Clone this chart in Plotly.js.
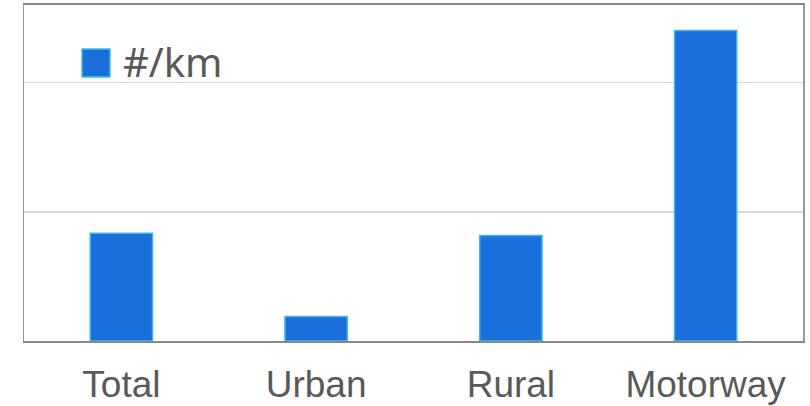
<!DOCTYPE html>
<html>
<head>
<meta charset="utf-8">
<script src="https://cdn.plot.ly/plotly-3.0.1.min.js"></script>
<style>html,body{margin:0;padding:0;background:#fff;}#chart{width:810px;height:406px;}</style>
</head>
<body>
<div id="chart"></div>
<script>
const categories = ["Total", "Urban", "Rural", "Motorway"];
const perKm = [0.833, 0.189, 0.817, 2.403];
const seriesName = "#/km";

const trace = {
  type: "bar",
  x: categories,
  y: perKm,
  name: seriesName,
  marker: { color: "#1a6fdb", line: { color: "#3cb9e6", width: 1.5 } },
  hoverinfo: "x+y"
};

const layout = {
  width: 810, height: 406,
  margin: { l: 24, r: 7, t: 5, b: 65 },
  paper_bgcolor: "#ffffff", plot_bgcolor: "#ffffff",
  showlegend: false,
  bargap: 0.68,
  xaxis: {
    type: "category",
    showline: true, linecolor: "#888888", linewidth: 2, mirror: true,
    showgrid: false, ticks: "",
    tickfont: { family: "Liberation Sans, Arial, sans-serif", size: 37, color: "#595959" },
    ticklabelstandoff: 10
  },
  yaxis: {
    range: [0, 2.6], dtick: 1,
    showticklabels: false, ticks: "",
    showgrid: true, gridcolor: "#d9d9d9", gridwidth: 1.5,
    zeroline: false,
    showline: true, linecolor: "#999999", linewidth: 1.5, mirror: true
  },
  shapes: [{
    type: "rect", xref: "paper", yref: "paper",
    x0: 0.0745, x1: 0.1104, y0: 0.786, y1: 0.869,
    fillcolor: "#1a6fdb", line: { color: "#3cb9e6", width: 1.5 }
  }],
  annotations: [{
    xref: "paper", yref: "paper", x: 0.1245, y: 0.831,
    xanchor: "left", yanchor: "middle", showarrow: false,
    text: seriesName,
    font: { family: "Noto Sans, Open Sans, sans-serif", size: 40, color: "#595959" }
  }]
};

Plotly.newPlot("chart", [trace], layout, { displayModeBar: false, staticPlot: true });
</script>
</body>
</html>
